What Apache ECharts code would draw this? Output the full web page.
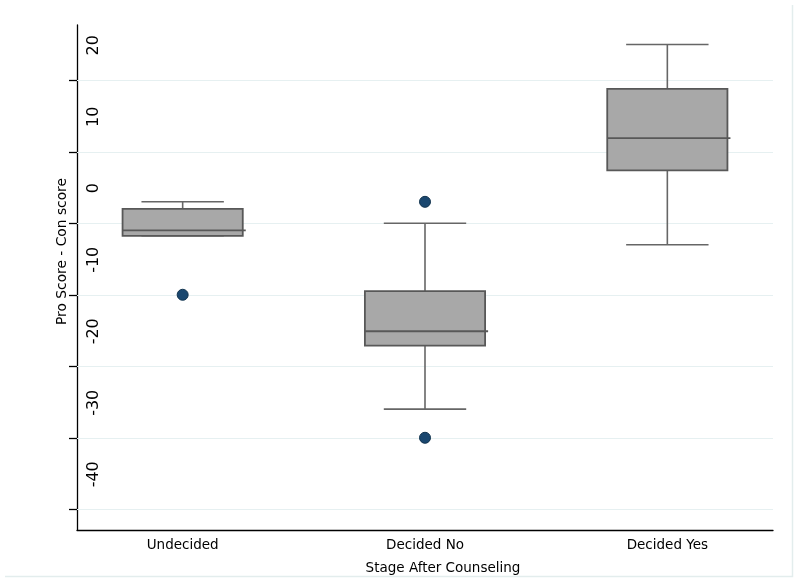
<!DOCTYPE html>
<html>
<head>
<meta charset="utf-8">
<script src="https://cdn.jsdelivr.net/npm/echarts@6/dist/echarts.min.js"></script>
<style>
  html, body { margin: 0; padding: 0; background: #ffffff; }
  #chart { width: 800px; height: 583px; }
</style>
</head>
<body>
<div id="chart"></div>
<script>
// ---- data ----
const categories   = ['Undecided', 'Decided No', 'Decided Yes'];
const lowWhisker   = [-1.75, -26, -3];
const lowerQuart   = [-1.75, -17.1, 7.4];
const medians      = [-1, -15.1, 11.9];
const upperQuart   = [2, -9.5, 18.8];
const highWhisker  = [3, 0, 25];
const outlierCats  = ['Undecided', 'Decided No', 'Decided No'];
const outlierVals  = [-10, 3, -30];
const yTicks       = [-40, -30, -20, -10, 0, 10, 20];
const xTicks       = [1, 2, 3];

const boxData = categories.map((c, i) => [i + 1, lowWhisker[i], lowerQuart[i], medians[i], upperQuart[i], highWhisker[i]]);
const outlierData = outlierCats.map((c, k) => [categories.indexOf(c) + 1, outlierVals[k]]);

const BOX_W = 0.496, CAP_W = 0.34;

function renderBox(params, api) {
  const x = api.value(0);
  const pLo = api.coord([x, api.value(1)]);
  const pQ1 = api.coord([x, api.value(2)]);
  const pMd = api.coord([x, api.value(3)]);
  const pQ3 = api.coord([x, api.value(4)]);
  const pHi = api.coord([x, api.value(5)]);
  const bw = api.size([BOX_W, 0])[0];
  const cw = api.size([CAP_W, 0])[0];
  const cx = pMd[0];
  const wStyle = { stroke: '#666666', lineWidth: 1.6, fill: null };
  return {
    type: 'group',
    children: [
      { type: 'line', shape: { x1: cx, y1: pQ3[1], x2: cx, y2: pHi[1] }, style: wStyle },
      { type: 'line', shape: { x1: cx, y1: pQ1[1], x2: cx, y2: pLo[1] }, style: wStyle },
      { type: 'line', shape: { x1: cx - cw / 2, y1: pHi[1], x2: cx + cw / 2, y2: pHi[1] }, style: wStyle },
      { type: 'line', shape: { x1: cx - cw / 2, y1: pLo[1], x2: cx + cw / 2, y2: pLo[1] }, style: wStyle },
      { type: 'rect', shape: { x: cx - bw / 2, y: pQ3[1], width: bw, height: pQ1[1] - pQ3[1] },
        style: { fill: '#a8a8a8', stroke: '#585858', lineWidth: 1.8 } },
      { type: 'line', shape: { x1: cx - bw / 2, y1: pMd[1], x2: cx + bw / 2 + 3, y2: pMd[1] },
        style: { stroke: '#585858', lineWidth: 1.8 } }
    ]
  };
}

const chart = echarts.init(document.getElementById('chart'), null, { renderer: 'canvas' });
chart.setOption({
  animation: false,
  backgroundColor: '#ffffff',
  textStyle: { fontFamily: 'DejaVu Sans' },
  grid: { left: 77, right: 27, top: 25, bottom: 53, containLabel: false },
  graphic: [{
    type: 'polyline',
    shape: { points: [[5, 576.5], [792.5, 576.5], [792.5, 5]] },
    style: { stroke: '#e3eded', lineWidth: 1.5, fill: null },
    silent: true
  }],
  xAxis: {
    type: 'value',
    min: 0.564, max: 3.436,
    name: 'Stage After Counseling',
    nameLocation: 'middle',
    nameGap: 31,
    nameTextStyle: { fontSize: 13.5, color: '#000', padding: [0, 0, 0, 36], fontFamily: 'DejaVu Sans' },
    axisLine: { show: true, onZero: false, lineStyle: { color: '#000', width: 1.3 } },
    axisTick: { show: false },
    splitLine: { show: false },
    axisLabel: {
      customValues: xTicks,
      formatter: v => categories[Math.round(v) - 1] || '',
      fontSize: 13.5, color: '#000', margin: 8, fontFamily: 'DejaVu Sans'
    }
  },
  yAxis: {
    type: 'value',
    min: -42.9, max: 27.73,
    name: 'Pro Score - Con score',
    nameLocation: 'middle',
    nameRotate: 90,
    nameGap: 4,
    nameTextStyle: { fontSize: 13.8, color: '#000', padding: [0, 0, 0, 52], fontFamily: 'DejaVu Sans' },
    axisLine: { show: true, onZero: false, lineStyle: { color: '#000', width: 1.3 } },
    axisTick: { show: true, customValues: yTicks, length: 8, inside: false, lineStyle: { color: '#000', width: 1.3 } },
    splitLine: { show: false },
    axisLabel: {
      customValues: yTicks,
      inside: true,
      rotate: 90,
      align: 'center',
      verticalAlign: 'top',
      padding: [0, 0, 0, 70],
      margin: 9,
      fontSize: 16, color: '#000', fontFamily: 'DejaVu Sans'
    }
  },
  series: [
    {
      type: 'line',
      data: [],
      z: 1,
      silent: true,
      markLine: {
        z: 1,
        silent: true,
        symbol: 'none',
        label: { show: false },
        lineStyle: { color: '#e6f0f1', width: 1.2, type: 'solid' },
        data: yTicks.map(v => ({ yAxis: v }))
      }
    },
    {
      type: 'custom',
      z: 10,
      renderItem: renderBox,
      encode: { x: 0, y: [1, 2, 3, 4, 5] },
      data: boxData
    },
    {
      type: 'scatter',
      z: 11,
      symbol: 'circle',
      symbolSize: 11,
      itemStyle: { color: '#1a476f', borderColor: '#12344f', borderWidth: 1, opacity: 1 },
      data: outlierData
    }
  ]
});
</script>
</body>
</html>
